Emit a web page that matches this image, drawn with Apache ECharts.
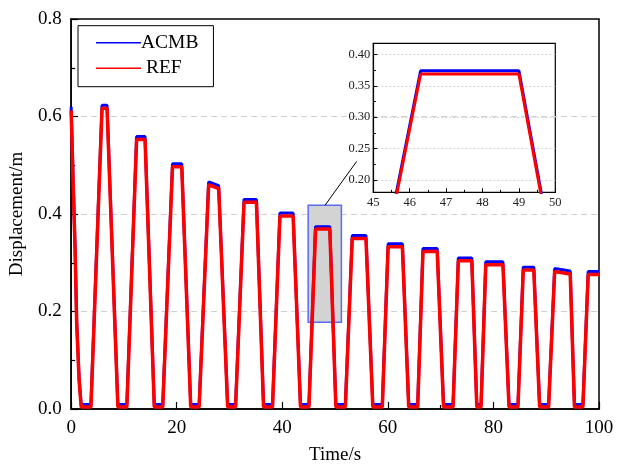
<!DOCTYPE html>
<html>
<head>
<meta charset="utf-8">
<script src="https://cdn.jsdelivr.net/npm/echarts@6/dist/echarts.min.js"></script>
<style>html,body{margin:0;padding:0;background:#fff;}#c{width:617px;height:470px;}</style>
</head>
<body>
<div id="c"></div>
<script>
// ---- data ----
const initT     = [0, 0.4, 0.75, 1.05, 1.5];
const initACMB  = [0.62, 0.46, 0.33, 0.18, 0.065];
const initREF   = [0.612, 0.455, 0.325, 0.175, 0.06];
const bottomStart = [1.9, 8.85, 15.75, 22.65, 29.65, 36.45, 43.45, 50.15, 57.15, 63.95, 70.55, 76.85, 82.95, 88.75, 95.35];
const riseStart   = [3.75, 10.55, 17.35, 24.25, 31.15, 38.15, 45.05, 51.95, 58.95, 65.65, 72.35, 77.65, 84.65, 90.45, 96.95];
const topStart    = [5.85, 12.4, 19.2, 26.05, 32.75, 39.55, 46.3, 53.25, 60.05, 66.65, 73.35, 78.55, 85.65, 91.6, 97.95];
const topEnd      = [6.8, 14.0, 20.95, 27.95, 35.1, 42.05, 49.0, 55.85, 62.75, 69.35, 75.9, 81.8, 87.65, 94.55, 100];
const peakStartACMB = [0.623, 0.559, 0.503, 0.466, 0.430, 0.402, 0.374, 0.356, 0.339, 0.329, 0.310, 0.302, 0.291, 0.288, 0.282];
const peakACMB      = [0.623, 0.559, 0.503, 0.458, 0.430, 0.402, 0.374, 0.356, 0.339, 0.329, 0.310, 0.302, 0.291, 0.283, 0.282];
const peakStartREF  = [0.617, 0.553, 0.497, 0.460, 0.424, 0.396, 0.369, 0.350, 0.333, 0.323, 0.304, 0.296, 0.285, 0.282, 0.276];
const peakREF       = [0.617, 0.553, 0.497, 0.452, 0.424, 0.396, 0.369, 0.350, 0.333, 0.323, 0.304, 0.296, 0.285, 0.277, 0.276];
const baseACMB = 0.009;
const baseREF  = 0.004;
const xTicksMain = [0, 100, 20];
const yTicksMain = [0, 0.8, 0.2];
const insetX = [45, 50, 1];
const insetY = [0.18, 0.418];
const zoomBox = [[44.9, 0.178], [51.2, 0.418]];
const arrowLine = [[48.1, 0.418], [54.1, 0.508]];

function build(initV, base, pStart, pVal) {
  const pts = initT.map((t, i) => [t, initV[i]]);
  for (let i = 0; i < bottomStart.length; i++) {
    pts.push([bottomStart[i], base]);
    pts.push([riseStart[i], base]);
    pts.push([topStart[i], pStart[i]]);
    pts.push([topEnd[i], pVal[i]]);
  }
  return pts;
}
const acmbData = build(initACMB, baseACMB, peakStartACMB, peakACMB);
const refData  = build(initREF, baseREF, peakStartREF, peakREF);

const FONT = 'Liberation Serif';
const chart = echarts.init(document.getElementById('c'), null, {renderer: 'canvas'});
chart.setOption({
  animation: false,
  backgroundColor: '#fff',
  textStyle: {fontFamily: FONT},
  legend: {
    left: 78, top: 25.7, orient: 'vertical',
    borderColor: '#000', borderWidth: 1,
    padding: [7, 15, 8.5, 18],
    itemGap: 5.5, itemWidth: 45, itemHeight: 1.5,
    textStyle: {fontFamily: FONT, fontSize: 19.5, color: '#000', padding: [0, 0, 0, -5]},
    formatter: n => n === 'REF' ? ' REF' : n,
    data: [{name: 'ACMB', icon: 'rect'}, {name: 'REF', icon: 'rect'}]
  },
  grid: [
    {left: 69.5, right: 18, top: 19, bottom: 57.5, show: true, borderColor: '#000', borderWidth: 1.5},
    {left: 373.3, right: 61.7, top: 43.3, bottom: 277.7, show: true, borderColor: '#000', borderWidth: 1.2}
  ],
  xAxis: [
    {gridIndex: 0, type: 'value', min: xTicksMain[0], max: xTicksMain[1], interval: xTicksMain[2],
     name: 'Time/s', nameLocation: 'middle', nameGap: 37,
     nameTextStyle: {fontFamily: FONT, fontSize: 19, color: '#000'},
     axisLine: {lineStyle: {color: '#000', width: 1.5}},
     axisTick: {inside: true, length: 7, lineStyle: {color: '#000', width: 1.2}},
     minorTick: {show: true, splitNumber: 2, length: 4, lineStyle: {color: '#000', width: 1.2}},
     axisLabel: {fontFamily: FONT, fontSize: 19, color: '#000', margin: 10},
     splitLine: {show: false}},
    {gridIndex: 1, type: 'value', min: insetX[0], max: insetX[1], interval: insetX[2],
     axisLine: {lineStyle: {color: '#000', width: 1.2}},
     axisTick: {inside: true, length: 4, lineStyle: {color: '#000', width: 1}},
     minorTick: {show: true, splitNumber: 2, length: 2.5, lineStyle: {color: '#000', width: 1}},
     axisLabel: {fontFamily: FONT, fontSize: 12.5, color: '#222', margin: 4},
     splitLine: {show: false}}
  ],
  yAxis: [
    {gridIndex: 0, type: 'value', min: yTicksMain[0], max: yTicksMain[1], interval: yTicksMain[2],
     name: 'Displacement/m', nameLocation: 'middle', nameGap: 38,
     nameTextStyle: {fontFamily: FONT, fontSize: 19, color: '#000'},
     axisLine: {show: true, lineStyle: {color: '#000', width: 1.5}},
     axisTick: {show: true, inside: true, length: 7, lineStyle: {color: '#000', width: 1.2}},
     minorTick: {show: true, splitNumber: 2, length: 4, lineStyle: {color: '#000', width: 1.2}},
     axisLabel: {fontFamily: FONT, fontSize: 19, color: '#000', margin: 9.5, formatter: v => v.toFixed(1)},
     splitLine: {show: true, showMinLine: false, showMaxLine: false,
                 lineStyle: {color: '#d0d0d0', type: [6, 4], width: 1}}},
    {gridIndex: 1, type: 'value', min: insetY[0], max: insetY[1], splitNumber: 5,
     axisLine: {show: true, lineStyle: {color: '#000', width: 1.2}},
     axisTick: {show: true, inside: true, length: 4, lineStyle: {color: '#000', width: 1}},
     minorTick: {show: true, splitNumber: 2, length: 2.5, lineStyle: {color: '#000', width: 1}},
     axisLabel: {fontFamily: FONT, fontSize: 12.5, color: '#222', margin: 3, showMinLabel: false, showMaxLabel: false,
                 formatter: v => v.toFixed(2)},
     splitLine: {show: true, showMinLine: false, showMaxLine: false,
                 lineStyle: {color: '#d0d0d0', type: [2, 2], width: 1}}}
  ],
  series: [
    {type: 'line', name: 'marker', xAxisIndex: 0, yAxisIndex: 0, data: [], z: 1, silent: true,
     markArea: {silent: true, itemStyle: {color: '#d3d3d3', borderColor: '#5b6cf2', borderWidth: 1.5},
       data: [[{coord: zoomBox[0]}, {coord: zoomBox[1]}]]},
     markLine: {silent: true, symbol: ['none', 'arrow'], symbolSize: [0, 9], label: {show: false},
       lineStyle: {color: '#000', width: 1, type: 'solid'},
       data: [[{coord: arrowLine[0]}, {coord: arrowLine[1]}]]}},
    {type: 'line', name: 'ACMB', xAxisIndex: 0, yAxisIndex: 0, data: acmbData, showSymbol: false, z: 3,
     lineStyle: {color: '#0000ff', width: 3}, itemStyle: {color: '#0000ff'}},
    {type: 'line', name: 'REF', xAxisIndex: 0, yAxisIndex: 0, data: refData, showSymbol: false, z: 4,
     lineStyle: {color: '#ff0000', width: 3.5}, itemStyle: {color: '#ff0000'}},
    {type: 'line', name: 'ACMB', xAxisIndex: 1, yAxisIndex: 1, data: acmbData, showSymbol: false, z: 3, clip: true,
     lineStyle: {color: '#0000ff', width: 3}, itemStyle: {color: '#0000ff'}},
    {type: 'line', name: 'REF', xAxisIndex: 1, yAxisIndex: 1, data: refData, showSymbol: false, z: 4, clip: true,
     lineStyle: {color: '#ff0000', width: 3}, itemStyle: {color: '#ff0000'}}
  ]
});
</script>
</body>
</html>
